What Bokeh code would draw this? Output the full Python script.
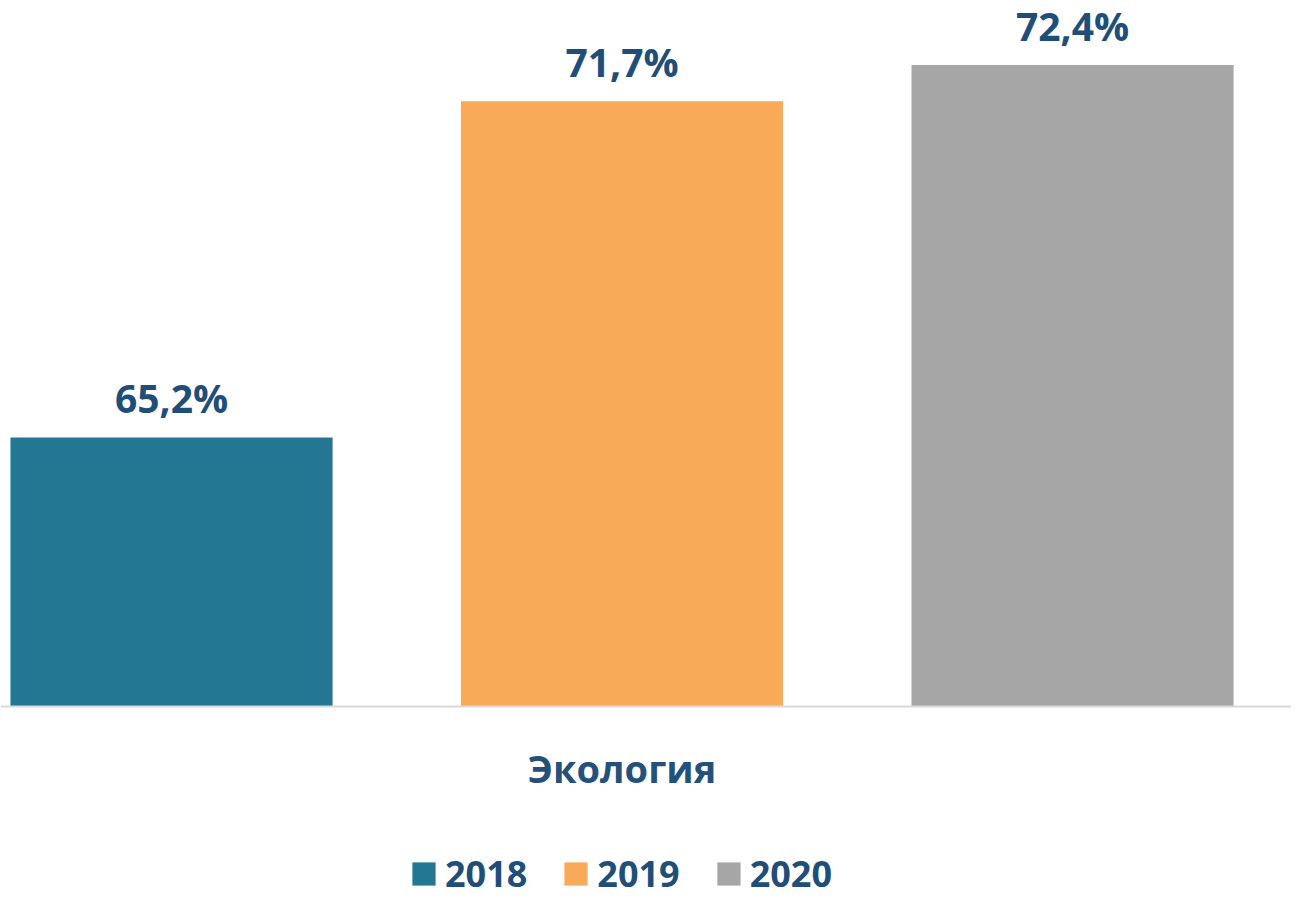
from bokeh.plotting import figure
from bokeh.models import ColumnDataSource, Range1d, LabelSet, Legend, LegendItem, Span
from bokeh.core.properties import value
from bokeh.embed import file_html
from bokeh.resources import INLINE

category = ["Экология"]
years = ["2018", "2019", "2020"]
values = [65.2, 71.7, 72.4]
labels = ["65,2%", "71,7%", "72,4%"]
colors = ["#237792", "#F8AA58", "#A6A6A6"]
xpos = [0, 1, 2]
BASE = 60

FONT = "Open Sans"
TXT = "#1F4E79"

p = figure(width=1291, height=898, output_backend="svg", toolbar_location=None,
           x_range=Range1d(-0.3796, 2.486), y_range=Range1d(56.289, 73.645),
           x_axis_location=None, y_axis_location=None,
           min_border_left=0, min_border_right=0, min_border_top=0, min_border_bottom=0)
p.outline_line_color = None
p.grid.visible = False
p.background_fill_color = "white"
p.border_fill_color = "white"

src = ColumnDataSource(dict(x=xpos, top=values, year=years, label=labels))
renderers = []
for i in range(3):
    r = p.vbar(x=[xpos[i]], top=[values[i]], bottom=BASE, width=0.715, color=colors[i], line_color=None)
    renderers.append(r)

p.add_layout(Span(location=BASE, dimension="width", line_color="#D9D9D9", line_width=2))

lbl = LabelSet(x="x", y="top", text="label", source=src, text_align="center",
               text_baseline="alphabetic", y_offset=24,
               text_font=value(FONT), text_font_style="bold", text_font_size="39px", text_color=TXT)
p.add_layout(lbl)

csrc = ColumnDataSource(dict(x=[1], y=[BASE], text=category))
clbl = LabelSet(x="x", y="y", text="text", source=csrc, text_align="center",
                text_baseline="alphabetic", y_offset=-77,
                text_font=value(FONT), text_font_style="bold", text_font_size="38px", text_color="#24507A")
p.add_layout(clbl)

legend = Legend(items=[LegendItem(label=years[i], renderers=[renderers[i]]) for i in range(3)],
                orientation="horizontal", location=(409, 0),
                glyph_width=29, glyph_height=29, label_standoff=7, spacing=34,
                label_text_font=FONT, label_text_font_style="bold", label_text_font_size="36px",
                label_text_color=TXT, border_line_color=None, background_fill_alpha=0,
                margin=0, padding=0)
p.add_layout(legend, "center")

open("out.html", "w").write(file_html(p, INLINE))
